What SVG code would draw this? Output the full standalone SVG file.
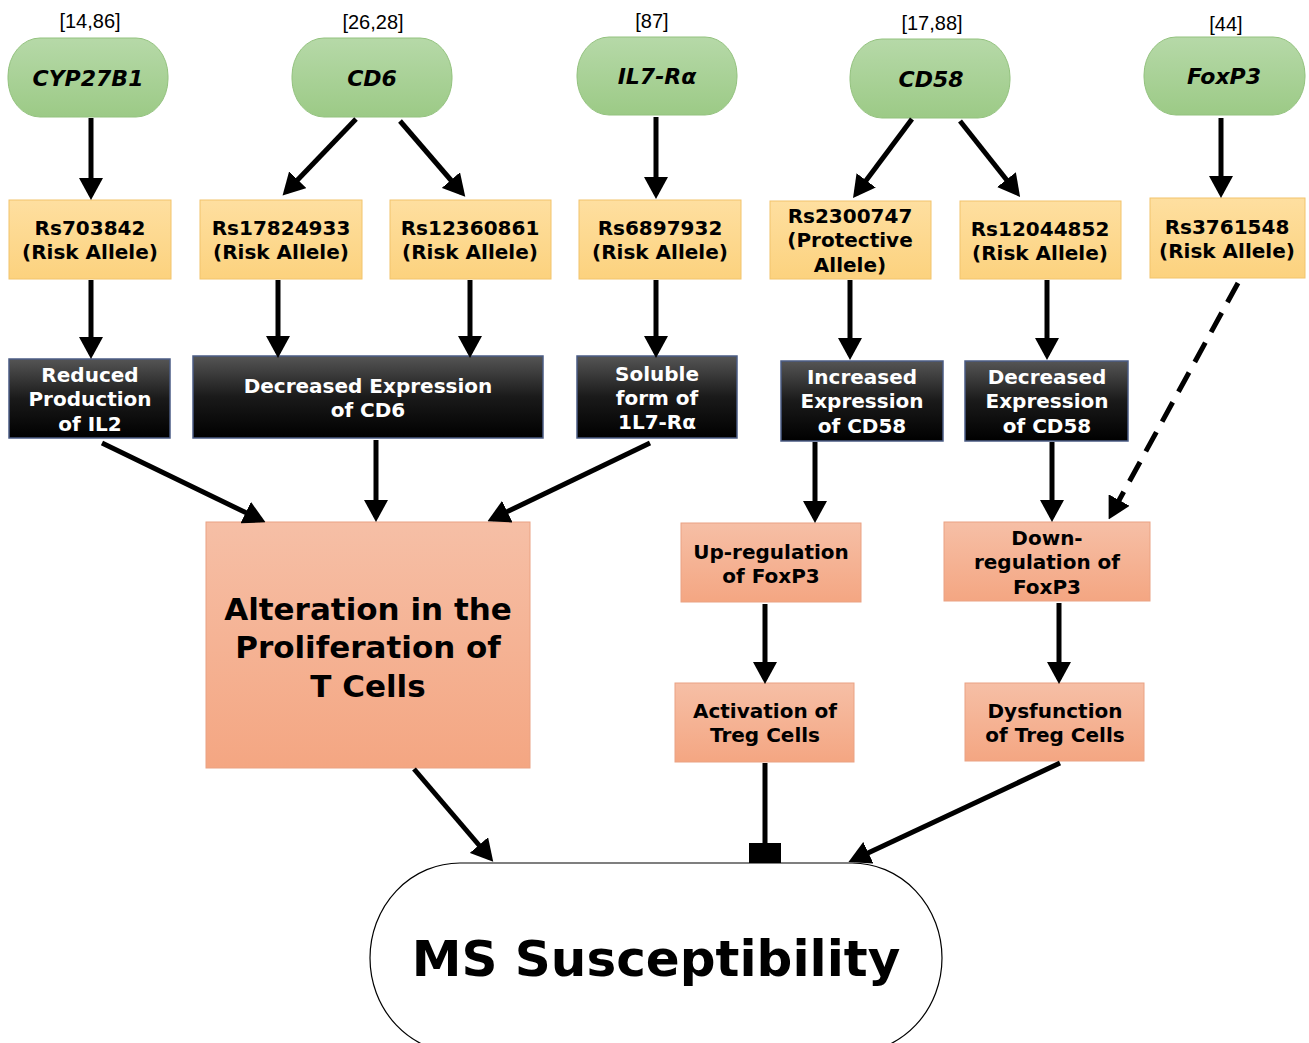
<svg xmlns="http://www.w3.org/2000/svg" width="1309" height="1043" viewBox="0 0 1309 1043">
<defs>
<linearGradient id="gGreen" x1="0" y1="0" x2="0" y2="1"><stop offset="0" stop-color="#b6d9a8"/><stop offset="1" stop-color="#9cca86"/></linearGradient>
<linearGradient id="gYellow" x1="0" y1="0" x2="0" y2="1"><stop offset="0" stop-color="#fedfa0"/><stop offset="1" stop-color="#fcd27e"/></linearGradient>
<linearGradient id="gBlack" x1="0" y1="0" x2="0" y2="1"><stop offset="0" stop-color="#555555"/><stop offset="0.5" stop-color="#1a1a1a"/><stop offset="1" stop-color="#000000"/></linearGradient>
<linearGradient id="gSalmon" x1="0" y1="0" x2="0" y2="1"><stop offset="0" stop-color="#f6bfa6"/><stop offset="1" stop-color="#f4a682"/></linearGradient>
<marker id="arr" viewBox="0 0 22 24" markerWidth="22" markerHeight="24" refX="17" refY="12" orient="auto" markerUnits="userSpaceOnUse"><path d="M0,0 L22,12 L0,24 z" fill="#000"/></marker>
</defs>
<style>
.gene rect{fill:url(#gGreen);stroke:#93c27e;stroke-width:1}
.gene text{font-family:"DejaVu Sans",Verdana,sans-serif;font-weight:bold;font-style:italic;font-size:22px;fill:#000;text-anchor:middle}
.ref{font-family:"Liberation Sans",Arial,sans-serif;font-size:20px;fill:#000;text-anchor:middle}
.snp rect{fill:url(#gYellow);stroke:#f2c46c;stroke-width:1}
.snp text{font-family:"DejaVu Sans",Verdana,sans-serif;font-weight:bold;font-size:20px;fill:#000;text-anchor:middle}
.eff rect{fill:url(#gBlack);stroke:#4b5c85;stroke-width:1.5}
.eff text{font-family:"DejaVu Sans",Verdana,sans-serif;font-weight:bold;font-size:20px;fill:#fff;text-anchor:middle}
.out rect{fill:url(#gSalmon);stroke:#eaa283;stroke-width:1}
.out text{font-family:"DejaVu Sans",Verdana,sans-serif;font-weight:bold;font-size:20px;fill:#000;text-anchor:middle}
.big text{font-size:31px}
.ms rect{fill:#fff;stroke:#000;stroke-width:1.2}
.ms text{font-family:"DejaVu Sans",Verdana,sans-serif;font-weight:bold;font-size:50px;fill:#000;text-anchor:middle}
.conn line{stroke:#000;stroke-width:5;marker-end:url(#arr)}
.conn line.dash{stroke-dasharray:22 12}
</style>

<!-- references -->
<text class="ref" x="90" y="28">[14,86]</text>
<text class="ref" x="373" y="29">[26,28]</text>
<text class="ref" x="652" y="28">[87]</text>
<text class="ref" x="932" y="30">[17,88]</text>
<text class="ref" x="1226" y="31">[44]</text>

<!-- genes -->
<g id="gene-cyp27b1" class="gene"><rect x="8" y="38" width="160" height="79" rx="32" ry="38"/><text x="88" y="86">CYP27B1</text></g>
<g id="gene-cd6" class="gene"><rect x="292" y="38" width="160" height="79" rx="32" ry="38"/><text x="372" y="86">CD6</text></g>
<g id="gene-il7ra" class="gene"><rect x="577" y="37" width="160" height="78" rx="32" ry="38"/><text x="657" y="84">IL7-Rα</text></g>
<g id="gene-cd58" class="gene"><rect x="850" y="39" width="160" height="79" rx="32" ry="38"/><text x="931" y="87">CD58</text></g>
<g id="gene-foxp3" class="gene"><rect x="1144" y="37" width="161" height="78" rx="32" ry="38"/><text x="1224" y="84">FoxP3</text></g>

<!-- SNPs -->
<g id="snp-rs703842" class="snp"><rect x="9" y="200" width="162" height="79"/><text x="90" y="235">Rs703842</text><text x="90" y="259">(Risk Allele)</text></g>
<g id="snp-rs17824933" class="snp"><rect x="200" y="200" width="162" height="79"/><text x="281" y="235">Rs17824933</text><text x="281" y="259">(Risk Allele)</text></g>
<g id="snp-rs12360861" class="snp"><rect x="390" y="200" width="161" height="79"/><text x="470" y="235">Rs12360861</text><text x="470" y="259">(Risk Allele)</text></g>
<g id="snp-rs6897932" class="snp"><rect x="579" y="200" width="162" height="79"/><text x="660" y="235">Rs6897932</text><text x="660" y="259">(Risk Allele)</text></g>
<g id="snp-rs2300747" class="snp"><rect x="770" y="201" width="161" height="78"/><text x="850" y="223">Rs2300747</text><text x="850" y="247">(Protective</text><text x="850" y="272">Allele)</text></g>
<g id="snp-rs12044852" class="snp"><rect x="960" y="201" width="161" height="78"/><text x="1040" y="236">Rs12044852</text><text x="1040" y="260">(Risk Allele)</text></g>
<g id="snp-rs3761548" class="snp"><rect x="1150" y="198" width="155" height="80"/><text x="1227" y="234">Rs3761548</text><text x="1227" y="258">(Risk Allele)</text></g>

<!-- effects -->
<g id="eff-il2" class="eff"><rect x="9" y="359" width="161" height="79"/><text x="90" y="382">Reduced</text><text x="90" y="406">Production</text><text x="90" y="431">of IL2</text></g>
<g id="eff-cd6" class="eff"><rect x="193" y="356" width="350" height="82"/><text x="368" y="393">Decreased Expression</text><text x="368" y="417">of CD6</text></g>
<g id="eff-il7" class="eff"><rect x="577" y="356" width="160" height="82"/><text x="657" y="381">Soluble</text><text x="657" y="405">form of</text><text x="657" y="429">1L7-Rα</text></g>
<g id="eff-cd58-up" class="eff"><rect x="781" y="361" width="162" height="80"/><text x="862" y="384">Increased</text><text x="862" y="408">Expression</text><text x="862" y="433">of CD58</text></g>
<g id="eff-cd58-down" class="eff"><rect x="965" y="361" width="163" height="80"/><text x="1047" y="384">Decreased</text><text x="1047" y="408">Expression</text><text x="1047" y="433">of CD58</text></g>

<!-- outcomes -->
<g id="out-tcell" class="out big"><rect x="206" y="522" width="324" height="246"/><text x="368" y="620">Alteration in the</text><text x="368" y="658">Proliferation of</text><text x="368" y="697">T Cells</text></g>
<g id="out-upfoxp3" class="out"><rect x="681" y="523" width="180" height="79"/><text x="771" y="559">Up-regulation</text><text x="771" y="583">of FoxP3</text></g>
<g id="out-downfoxp3" class="out"><rect x="944" y="522" width="206" height="79"/><text x="1047" y="545">Down-</text><text x="1047" y="569">regulation of</text><text x="1047" y="594">FoxP3</text></g>
<g id="out-treg-act" class="out"><rect x="675" y="683" width="179" height="79"/><text x="765" y="718">Activation of</text><text x="765" y="742">Treg Cells</text></g>
<g id="out-treg-dys" class="out"><rect x="965" y="683" width="179" height="78"/><text x="1055" y="718">Dysfunction</text><text x="1055" y="742">of Treg Cells</text></g>

<!-- MS -->
<g id="ms" class="ms"><rect x="370" y="863" width="572" height="190" rx="90" ry="95"/><text x="656" y="976">MS Susceptibility</text></g>

<!-- connectors -->
<g id="connectors" class="conn">
<line x1="91" y1="118" x2="91" y2="195"/>
<line x1="356" y1="119" x2="286" y2="192"/>
<line x1="400" y1="121" x2="462" y2="193"/>
<line x1="656" y1="117" x2="656" y2="194"/>
<line x1="912" y1="119" x2="856" y2="194"/>
<line x1="960" y1="121" x2="1017" y2="193"/>
<line x1="1221" y1="118" x2="1221" y2="193"/>
<line x1="91" y1="280" x2="91" y2="354"/>
<line x1="278" y1="280" x2="278" y2="353"/>
<line x1="470" y1="280" x2="470" y2="353"/>
<line x1="656" y1="280" x2="656" y2="353"/>
<line x1="850" y1="280" x2="850" y2="355"/>
<line x1="1047" y1="280" x2="1047" y2="355"/>
<line class="dash" x1="1238" y1="283" x2="1111" y2="515"/>
<line x1="102" y1="443" x2="261" y2="520"/>
<line x1="376" y1="440" x2="376" y2="517"/>
<line x1="650" y1="443" x2="492" y2="519"/>
<line x1="815" y1="442" x2="815" y2="518"/>
<line x1="1052" y1="442" x2="1052" y2="517"/>
<line x1="765" y1="604" x2="765" y2="679"/>
<line x1="1059" y1="603" x2="1059" y2="679"/>
<line x1="414" y1="769" x2="490" y2="858"/>
<line x1="1060" y1="763" x2="853" y2="860"/>
<line x1="765" y1="763" x2="765" y2="845" style="marker-end:none"/>
<rect x="749" y="843" width="32" height="20" fill="#000"/>
</g>
</svg>
